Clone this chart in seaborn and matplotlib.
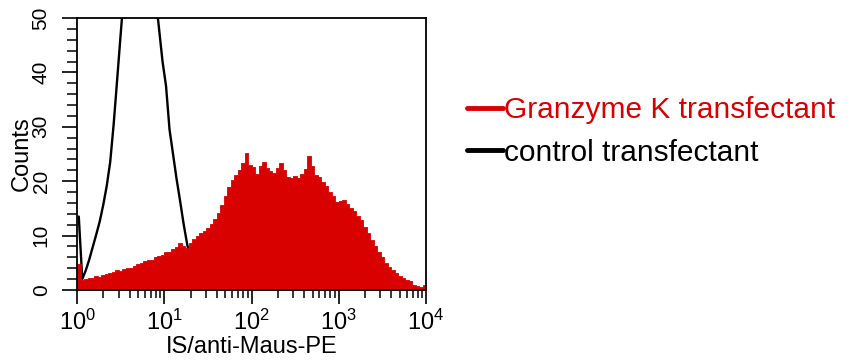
import numpy as np
import pandas as pd
import matplotlib.pyplot as plt
import seaborn as sns
from matplotlib.lines import Line2D
from matplotlib.ticker import LogLocator, MultipleLocator, NullFormatter

sns.set_theme(style='ticks')
plt.rcParams['font.family'] = ['Liberation Sans', 'DejaVu Sans']

RED = '#d90000'

# 100 channels spread over four log decades (10^0 .. 10^4)
n_channels = 100
edges = np.logspace(0, 4, n_channels + 1)
centers = np.sqrt(edges[:-1] * edges[1:])

# counts per channel
granzyme_counts = [
    4.8, 1.8, 2.0, 2.2, 2.3, 2.5, 2.4, 2.8, 3.0, 3.2,
    3.3, 3.6, 3.5, 3.9, 4.1, 4.0, 4.5, 4.8, 4.9, 5.3,
    5.6, 5.5, 6.1, 6.3, 6.5, 7.0, 6.9, 7.6, 7.9, 8.6,
    8.1, 7.8, 8.6, 9.3, 9.9, 10.4, 10.9, 11.4, 12.1, 13.0,
    14.2, 15.6, 17.2, 19.0, 20.3, 21.2, 22.0, 23.3, 25.2, 23.0,
    22.6, 21.4, 22.8, 23.6, 22.5, 21.8, 21.5, 22.4, 23.4, 22.0,
    20.8, 20.6, 20.9, 20.5, 21.3, 22.2, 24.6, 22.8, 21.2, 20.7,
    19.8, 19.2, 18.0, 17.2, 16.1, 16.4, 16.6, 15.8, 15.1, 14.6,
    13.6, 12.8, 11.6, 10.4, 9.2, 8.1, 7.0, 6.0, 5.0, 4.3,
    3.6, 3.1, 2.6, 2.3, 1.8, 1.6, 1.0, 0.7, 0.5, 0.9,
]

control_counts = [
    13.5, 2.0, 3.6, 5.6, 7.9, 10.2, 12.6, 15.6, 19.1, 23.5,
    30.5, 38.7, 47.0, 55.0, 62.0, 70.0, 75.0, 78.0, 76.0, 72.0,
    66.0, 60.0, 54.0, 48.0, 42.0, 37.5, 29.5, 25.0, 20.5, 16.5,
    12.3, 8.6, 5.5, 3.0, 1.5, 0.5, 0.0,
]

legend_labels = ['Granzyme K transfectant', 'control transfectant']

granzyme = pd.DataFrame({'channel': centers, 'count': granzyme_counts})
control = pd.DataFrame({'channel': centers[:len(control_counts)], 'count': control_counts})

fig = plt.figure(figsize=(8.54, 3.6), dpi=100)
ax = fig.add_axes([0.0902, 0.1944, 0.4087, 0.7556])

sns.lineplot(data=control, x='channel', y='count', color='black',
             lw=1.7, ax=ax, zorder=1)
sns.histplot(data=granzyme, x='channel', weights='count', bins=list(edges),
             element='step', fill=True, color=RED, alpha=1, lw=0.6,
             edgecolor=RED, ax=ax, zorder=2)

ax.set_xscale('log')
ax.set_xlim(1, 1e4)
ax.set_ylim(0, 50)

ax.xaxis.set_major_locator(LogLocator(base=10, numticks=10))
ax.xaxis.set_minor_locator(LogLocator(base=10, subs=np.arange(2, 10), numticks=10))
ax.xaxis.set_minor_formatter(NullFormatter())
ax.yaxis.set_major_locator(MultipleLocator(10))
ax.yaxis.set_minor_locator(MultipleLocator(2))

ax.tick_params(axis='x', which='major', length=10, width=1.2, pad=4,
               labelsize=17, color='black', labelcolor='black')
ax.tick_params(axis='x', which='minor', length=6, width=1.1, color='black')
ax.tick_params(axis='y', which='major', length=11, width=1.2, pad=8,
               labelsize=15, color='black', labelcolor='black')
ax.tick_params(axis='y', which='minor', length=7, width=1.1, color='black')
plt.setp(ax.get_yticklabels(), rotation=90, va='center', ha='right')

for sp in ax.spines.values():
    sp.set_visible(True)
    sp.set_color('black')
    sp.set_linewidth(1.3)

ax.set_xlabel('IS/anti-Maus-PE', fontsize=17, labelpad=1, color='black')
ax.set_ylabel('Counts', fontsize=17, labelpad=-1, color='black')

handles = [Line2D([], [], color=RED, lw=3.5), Line2D([], [], color='black', lw=3.5)]
fig.legend(handles, legend_labels, loc='upper left',
           bbox_to_anchor=(0.547, 1 - 96 / 360), frameon=False, fontsize=21.5,
           handlelength=1.2, handletextpad=0.05, labelspacing=0.5,
           borderpad=0, borderaxespad=0, labelcolor=[RED, 'black'])

fig.savefig('out.png', dpi=100)
